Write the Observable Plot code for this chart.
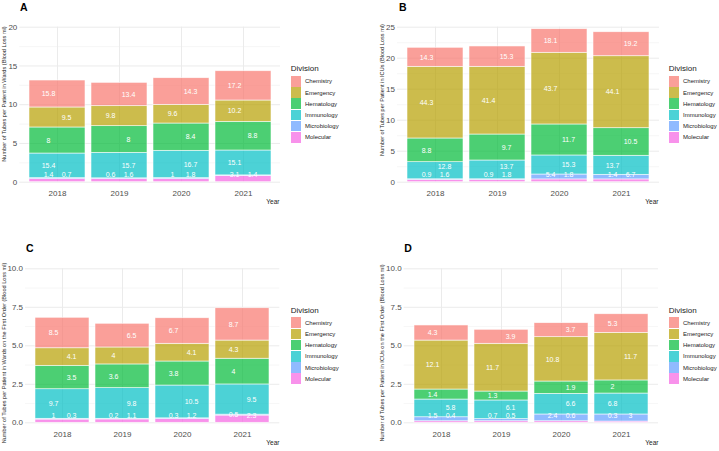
<!DOCTYPE html>
<html><head><meta charset="utf-8">
<script src="https://cdn.jsdelivr.net/npm/d3@7"></script>
<script src="https://cdn.jsdelivr.net/npm/@observablehq/plot@0.6"></script>
<style>
body{margin:0;background:#fff;font-family:'Liberation Sans',Arial,sans-serif;}
#root{position:relative;width:719px;height:451px;overflow:hidden;background:#fff;}
.abs{position:absolute;white-space:nowrap;line-height:1;}
svg{position:absolute;overflow:visible;}
</style></head><body><div id="root"></div>
<script>
// ---- data ----
const years = ["2018", "2019", "2020", "2021"];
const divisions = ["Chemistry", "Emergency", "Hematology", "Immunology", "Microbiology", "Molecular"];
const palette = ["#F8766D", "#B79F00", "#00BA38", "#00BFC4", "#619CFF", "#F564E3"];

// tubes per patient (bar heights); rows follow `divisions`, columns follow `years`
const tubesA = [[3.48, 3.01, 3.44, 3.78], [2.58, 2.58, 2.41, 2.75], [3.36, 3.44, 3.52, 3.70], [3.18, 3.29, 3.53, 3.21], [0.12, 0.10, 0.12, 0.10], [0.40, 0.40, 0.40, 0.78]];
const tubesB = [[3.07, 3.28, 3.81, 3.87], [11.56, 10.92, 11.56, 11.61], [3.82, 4.19, 5.00, 4.45], [2.76, 3.03, 3.07, 3.07], [0.12, 0.12, 0.79, 0.74], [0.35, 0.35, 0.45, 0.45]];
const tubesC = [[1.98, 1.54, 1.66, 2.10], [1.14, 1.10, 1.15, 1.18], [1.52, 1.54, 1.56, 1.67], [1.92, 1.99, 2.13, 1.96], [0.05, 0.04, 0.05, 0.06], [0.21, 0.22, 0.24, 0.47]];
const tubesD = [[0.98, 0.91, 0.91, 1.21], [3.18, 3.10, 2.88, 3.09], [0.65, 0.58, 0.80, 0.85], [1.15, 1.21, 1.34, 1.36], [0.26, 0.14, 0.44, 0.46], [0.10, 0.10, 0.10, 0.08]];

// blood loss in ml (segment labels)
const bloodA = [[15.8, 13.4, 14.3, 17.2], [9.5, 9.8, 9.6, 10.2], [8, 8, 8.4, 8.8], [15.4, 15.7, 16.7, 15.1], [0.7, 1.6, 1.8, 1.4], [1.4, 0.6, 1, 3.1]];
const bloodB = [[14.3, 15.3, 18.1, 19.2], [44.3, 41.4, 43.7, 44.1], [8.8, 9.7, 11.7, 10.5], [12.8, 13.7, 15.3, 13.7], [1.6, 1.8, 5.4, 6.7], [0.9, 0.9, 1.8, 1.4]];
const bloodC = [[8.5, 6.5, 6.7, 8.7], [4.1, 4, 4.1, 4.3], [3.5, 3.6, 3.8, 4], [9.7, 9.8, 10.5, 9.5], [0.3, 0.2, 0.3, 0.5], [1, 1.1, 1.2, 2.3]];
const bloodD = [[4.3, 3.9, 3.7, 5.3], [12.1, 11.7, 10.8, 11.7], [1.4, 1.3, 1.9, 2], [5.8, 6.1, 6.6, 6.8], [1.5, 0.7, 2.4, 3], [0.4, 0.5, 0.6, 0.3]];

// y-axis tick values
const ticksA = [0, 5, 10, 15, 20];
const ticksB = [0, 5, 10, 15, 20, 25];
const ticksC = [0, 2.5, 5, 7.5, 10];
const ticksD = [0, 2.5, 5, 7.5, 10];

const titleA = "Number of Tubes per Patient in Wards (Blood Loss ml)";
const titleB = "Number of Tubes per Patient in ICUs (Blood Loss ml)";
const titleC = "Number of Tubes per Patient in Wards on the First Order (Blood Loss ml)";
const titleD = "Number of Tubes per Patient in ICUs on the First Order (Blood Loss ml)";

// ---- layout (label side hints mimic the repelled label placement) ----
const sideA = [[-1,1,1,-1],[1,-1,-1,-1],[-1,1,1,1],[-1,1,1,-1],[1,1,1,1],[-1,-1,-1,-1]];
const sideB = [[-1,1,-1,1],[-1,-1,-1,-1],[-1,1,1,1],[1,1,1,-1],[1,1,-1,1],[-1,-1,1,-1]];
const sideC = [[-1,1,-1,-1],[1,-1,1,-1],[1,-1,-1,-1],[-1,1,1,1],[1,-1,-1,-1],[-1,1,1,1]];
const sideD = [[-1,1,1,-1],[-1,-1,-1,1],[-1,-1,1,-1],[1,1,1,-1],[-1,-1,-1,1],[1,1,1,-1]];

const panels = [
  {letter:"A", tubes:tubesA, blood:bloodA, side:sideA, ticks:ticksA, title:titleA, fmt:d3.format("d"),
   left:0, top:0, width:360, height:225, mt:26.7, mb:43.3, ml:19.3, mr:80, tickPad:8,
   letterX:20, letterY:6.5, titleX:5, titleY:94, legX:291, legY:69.3, yearX:279.5, yearY:201.7},
  {letter:"B", tubes:tubesB, blood:bloodB, side:sideB, ticks:ticksB, title:titleB, fmt:d3.format("d"),
   left:360, top:0, width:359, height:225, mt:26.7, mb:43.3, ml:37, mr:60, tickPad:8,
   letterX:399, letterY:6.5, titleX:383, titleY:90, legX:669, legY:69.3, yearX:658.5, yearY:201.7},
  {letter:"C", tubes:tubesC, blood:bloodC, side:sideC, ticks:ticksC, title:titleC, fmt:d3.format(".1f"),
   left:0, top:240, width:360, height:211, mt:28.3, mb:28.7, ml:25, mr:80.7, tickPad:9,
   letterX:26, letterY:247.5, titleX:5.3, titleY:353, legX:291, legY:310.7, yearX:279.5, yearY:443.3},
  {letter:"D", tubes:tubesD, blood:bloodD, side:sideD, ticks:ticksD, title:titleD, fmt:d3.format(".1f"),
   left:360, top:240, width:359, height:211, mt:28.3, mb:28.7, ml:43.6, mr:61, tickPad:9,
   letterX:404.3, letterY:247.5, titleX:383, titleY:353, legX:669, legY:310.7, yearX:658.5, yearY:443.3}
];

const root = document.getElementById("root");
const stackOrder = divisions.slice().reverse();

function addText(txt, x, y, css, anchor) {
  const d = document.createElement("div");
  d.className = "abs";
  d.textContent = txt;
  d.style.left = x + "px";
  d.style.top = y + "px";
  Object.assign(d.style, css);
  d.style.transform = anchor || "translate(0,-50%)";
  root.appendChild(d);
  return d;
}

panels.forEach(p => {
  const rows = [];
  years.forEach((yr, i) => {
    let base = 0;
    for (let j = divisions.length - 1; j >= 0; j--) {
      const v = p.tubes[j][i];
      rows.push({year: yr, division: divisions[j], tubes: v, blood: p.blood[j][i], side: p.side[j][i], y1: base, y2: base + v});
      base += v;
    }
  });
  const yMax = p.ticks[p.ticks.length - 1];
  const plotH = p.height - p.mt - p.mb;
  const unit = yMax / plotH; // data units per pixel
  rows.forEach(r => r.ly = Math.max((r.y1 + r.y2) / 2, 7 * unit));
  // simple repel: keep labels on the same side of a bar at least 8.5px apart
  years.forEach(yr => [-1, 0, 1].forEach(s => {
    const grp = rows.filter(r => r.year === yr && r.side === s).sort((a, b) => a.ly - b.ly);
    for (let k = 1; k < grp.length; k++) grp[k].ly = Math.max(grp[k].ly, grp[k - 1].ly + 8.5 * unit);
  }));
  const minor = p.ticks.slice(1).map((t, k) => (t + p.ticks[k]) / 2);

  const chart = Plot.plot({
    width: p.width, height: p.height,
    marginTop: p.mt, marginBottom: p.mb, marginLeft: p.ml, marginRight: p.mr,
    x: {type: "band", domain: years, paddingInner: 0.1, paddingOuter: 0.15, axis: null, label: null},
    y: {domain: [0, yMax], axis: null, label: null},
    color: {domain: divisions, range: palette},
    style: {fontFamily: "'Liberation Sans', Arial, sans-serif", fontSize: "8px", color: "#4D4D4D", background: "transparent", overflow: "visible"},
    marks: [
      Plot.gridY(minor, {stroke: "#F0F0F0", strokeOpacity: 1, strokeWidth: 0.6}),
      Plot.gridY(p.ticks, {stroke: "#EBEBEB", strokeOpacity: 1, strokeWidth: 1}),
      Plot.gridX(years, {stroke: "#EBEBEB", strokeOpacity: 1, strokeWidth: 1}),
      Plot.axisX({tickSize: 0, tickPadding: p.tickPad, fontSize: 8, label: null}),
      Plot.axisY(p.ticks, {tickSize: 0, tickPadding: 2.5, tickFormat: p.fmt, fontSize: 8, label: null}),
      Plot.barY(rows, {x: "year", y: "tubes", fill: "division", order: stackOrder, fillOpacity: 0.7, stroke: "white", strokeOpacity: 0.8, strokeWidth: 0.7}),
      ...[-1, 0, 1].map(s => Plot.text(rows.filter(r => r.side === s), {x: "year", y: "ly", text: d => String(d.blood), fill: "white", fontSize: 7, dx: s * 9}))
    ]
  });
  chart.style.left = p.left + "px";
  chart.style.top = p.top + "px";
  root.appendChild(chart);

  addText(p.letter, p.letterX, p.letterY, {fontSize: "10.5px", fontWeight: "bold", color: "#000"});
  addText(p.title, p.titleX, p.titleY, {fontSize: "5.6px", color: "#1A1A1A"}, "translate(-50%,-50%) rotate(-90deg)");
  addText("Year", p.yearX, p.yearY, {fontSize: "6.5px", color: "#1A1A1A"}, "translate(-100%,-50%)");
  addText("Division", p.legX - 0.3, p.legY, {fontSize: "8px", color: "#1A1A1A"});
  divisions.forEach((dv, k) => {
    const cy = p.legY + 12 + k * 11.2;
    const key = document.createElement("div");
    key.className = "abs";
    key.style.left = p.legX + "px";
    key.style.top = (cy - 5.3) + "px";
    key.style.width = "10px";
    key.style.height = "10.6px";
    key.style.background = d3.color(palette[k]).copy({opacity: 0.7}).formatRgb();
    root.appendChild(key);
    addText(dv, p.legX + 14, cy, {fontSize: "6px", color: "#1A1A1A"});
  });
});
</script></body></html>
